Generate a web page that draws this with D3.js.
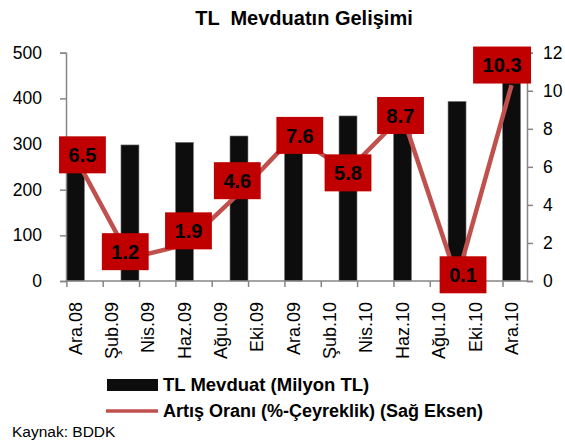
<!DOCTYPE html>
<html><head><meta charset="utf-8">
<script src="https://cdn.jsdelivr.net/npm/d3@7"></script>
<style>
body{margin:0;background:#fff;}
svg{display:block;font-family:"Liberation Sans",Arial,sans-serif;}
</style></head>
<body>
<svg id="c" width="565" height="446"></svg>
<script>
// ---- data ----
const quarterDates = ["2008-12","2009-03","2009-06","2009-09","2009-12","2010-03","2010-06","2010-09","2010-12"];
const depositValues = [294.5, 298, 303.7, 317.6, 341.7, 361.5, 393, 393.4, 434];
const growthRates = [6.5, 1.2, 1.9, 4.6, 7.6, 5.8, 8.7, 0.1, 10.3];
const tickDates = ["2008-12","2009-02","2009-04","2009-06","2009-08","2009-10","2009-12","2010-02","2010-04","2010-06","2010-08","2010-10","2010-12"];
const tickLabels = ["Ara.08","Şub.09","Nis.09","Haz.09","Ağu.09","Eki.09","Ara.09","Şub.10","Nis.10","Haz.10","Ağu.10","Eki.10","Ara.10"];
const leftTicks = [0,100,200,300,400,500];
const rightTicks = [0,2,4,6,8,10,12];
// label nudges (layout, px)
const labelNudge = [[7,-2.5],[-4.7,-6.5],[4,-14],[-1.7,-12.8],[6.3,-1],[0,2.2],[-2,0],[6,-4.3],[-9.5,-20]];

const monthIdx = s => { const [y,m] = s.split("-").map(Number); return (y-2008)*12 + (m-12); };

const svg = d3.select("#c");
const X0 = 66, X1 = 527, Y0 = 281, Ytop = 52.7;
const x = d3.scaleLinear().domain([-0.52, 24.85]).range([X0, X1]);
const yL = d3.scaleLinear().domain([0, 500]).range([Y0, Ytop]);
const yR = d3.scaleLinear().domain([0, 12]).range([Y0, Ytop]);
const axisColor = "#868686";

// title
svg.append("text").attr("x", 304).attr("y", 25).attr("text-anchor","middle")
  .style("white-space","pre").attr("font-weight","bold").attr("font-size",20)
  .text("TL  Mevduatın Gelişimi");

// bars
const barW = 18;
svg.append("g").selectAll("rect").data(depositValues).join("rect")
  .attr("x", (d,i) => x(monthIdx(quarterDates[i])) - barW/2)
  .attr("width", barW)
  .attr("y", d => yL(d))
  .attr("height", d => Y0 - yL(d))
  .attr("fill", "#0d0d0d").attr("stroke","#7f7f7f").attr("stroke-width",0.6);

// left axis
const gL = svg.append("g").attr("transform",`translate(${X0},0)`)
  .call(d3.axisLeft(yL).tickValues(leftTicks).tickSize(6).tickPadding(18));
gL.select(".domain").attr("stroke", axisColor).attr("stroke-width",1.5);
gL.selectAll(".tick line").attr("stroke", axisColor).attr("stroke-width",1.5);
gL.selectAll("text").attr("font-size",17.5).attr("fill","#000").attr("font-family","Liberation Sans, Arial, sans-serif");

// right axis
const gR = svg.append("g").attr("transform",`translate(${X1},0)`)
  .call(d3.axisRight(yR).tickValues(rightTicks).tickSize(6).tickPadding(10));
gR.select(".domain").attr("stroke", axisColor).attr("stroke-width",1.5);
gR.selectAll(".tick line").attr("stroke", axisColor).attr("stroke-width",1.5);
gR.selectAll("text").attr("font-size",17.5).attr("fill","#000").attr("font-family","Liberation Sans, Arial, sans-serif");

// x axis
const xTickPos = tickDates.map(d => monthIdx(d) - 0.5);
const gX = svg.append("g").attr("transform",`translate(0,${Y0})`)
  .call(d3.axisBottom(x).tickValues(xTickPos).tickSize(6).tickFormat(""));
gX.select(".domain").attr("d", `M${X0},0H${X1}`).attr("stroke", axisColor).attr("stroke-width",1.5);
gX.selectAll(".tick line").attr("stroke", axisColor).attr("stroke-width",1.5);

svg.append("g").selectAll("text").data(tickLabels).join("text")
  .attr("transform",(d,i) => `translate(${x(monthIdx(tickDates[i]))},302) rotate(-90)`)
  .attr("text-anchor","end").attr("dy","0.35em").attr("font-size",18).attr("fill","#000")
  .text(d => d);

// line
const pts = growthRates.map((v,i) => [x(monthIdx(quarterDates[i])), yR(v)]);
svg.append("path").datum(pts).attr("d", d3.line())
  .attr("fill","none").attr("stroke","#C0504D").attr("stroke-width",4.5).attr("stroke-linejoin","round");

// data labels
const lg = svg.append("g").selectAll("g").data(growthRates).join("g")
  .attr("transform",(d,i) => `translate(${pts[i][0]+labelNudge[i][0]},${pts[i][1]+labelNudge[i][1]})`);
lg.each(function(d){
  const g = d3.select(this);
  const t = g.append("text").attr("text-anchor","middle").attr("dy","0.36em")
    .attr("font-weight","bold").attr("font-size",20).attr("fill","#000").text(d.toFixed(1));
  const w = t.node().getComputedTextLength() + 19;
  g.insert("rect","text").attr("x",-w/2).attr("y",-18.5).attr("width",w).attr("height",37).attr("fill","#C00000");
});

// legend
svg.append("rect").attr("x",107).attr("y",379).attr("width",51).attr("height",12).attr("fill","#0d0d0d");
svg.append("text").attr("x",163).attr("y",391).attr("font-weight","bold").attr("font-size",18.5).text("TL Mevduat (Milyon TL)");
svg.append("line").attr("x1",106).attr("x2",158).attr("y1",411).attr("y2",411).attr("stroke","#C0504D").attr("stroke-width",3.5);
svg.append("text").attr("x",163).attr("y",417).attr("font-weight","bold").attr("font-size",18).text("Artış Oranı (%-Çeyreklik) (Sağ Eksen)");

// source
svg.append("text").attr("x",12).attr("y",437).attr("font-size",15.5).text("Kaynak: BDDK");
</script>
</body></html>
